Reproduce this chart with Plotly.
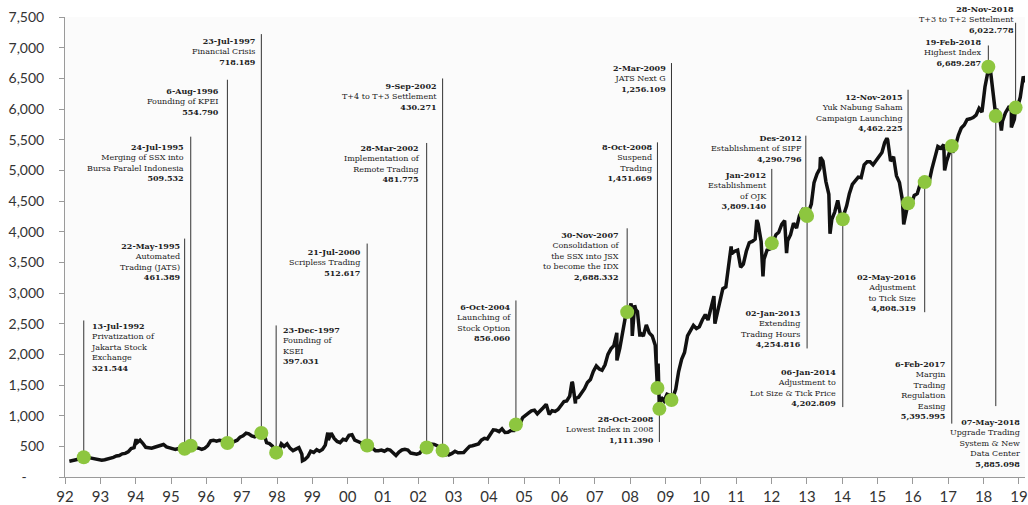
import pandas as pd
import plotly.graph_objects as go

# ---------------- data ----------------
# Monthly (mid-month) index levels, Jan-1992 .. Mar-2019
monthly_start = "1992-01-15"
monthly_values = [
    258, 270, 285, 292, 305, 315, 322, 312, 302, 295, 285, 275,          # 1992
    282, 292, 305, 320, 342, 350, 378, 385, 410, 465, 480, 560,          # 1993
    600, 550, 485, 478, 470, 485, 505, 520, 530, 490, 470, 462,          # 1994
    448, 462, 432, 420, 458, 485, 512, 478, 470, 452, 468, 510,          # 1995
    590, 600, 585, 598, 592, 590, 548, 558, 585, 600, 650, 672,          # 1996
    715, 705, 670, 655, 690, 718, 722, 560, 545, 505, 430, 405,          # 1997
    540, 500, 540, 470, 430, 455, 480, 370, 285, 330, 420, 400,          # 1998
    445, 420, 450, 520, 600, 715, 630, 580, 560, 615, 600, 680,          # 1999
    690, 600, 585, 560, 500, 520, 510, 475, 430, 430, 440, 420,          # 2000
    450, 440, 395, 350, 405, 440, 450, 440, 390, 380, 372, 388,          # 2001
    450, 460, 485, 535, 530, 510, 470, 450, 430, 362, 385, 420,          # 2002
    395, 400, 400, 450, 500, 510, 520, 540, 600, 630, 620, 690,          # 2003
    770, 765, 740, 785, 725, 730, 760, 760, 820, 860, 970, 1000,         # 2004
    1045, 1080, 1090, 1030, 1090, 1130, 1185, 1020, 1080, 1070, 1100, 1160,  # 2005
    1230, 1240, 1320, 1530, 1280, 1300, 1360, 1440, 1540, 1590, 1720, 1810,  # 2006
    1760, 1740, 1830, 2000, 2090, 2140, 2350, 2100, 2360, 2640, 2690, 2750,  # 2007
    2800, 2700, 2350, 2300, 2480, 2350, 2300, 2150, 1850, 1300, 1240, 1350,  # 2008
    1330, 1290, 1430, 1720, 1920, 2030, 2300, 2400, 2470, 2420, 2450, 2560,  # 2009
    2650, 2560, 2780, 2950, 2650, 2910, 3070, 3100, 3500, 3640, 3680, 3700,  # 2010
    3420, 3470, 3680, 3820, 3840, 3880, 4130, 3840, 3550, 3700, 3720, 3820,  # 2011
    3950, 3990, 4120, 4180, 3850, 3950, 4140, 4060, 4260, 4350, 4280, 4310,  # 2012
    4450, 4800, 4940, 5030, 5150, 4820, 4610, 4200, 4320, 4510, 4260, 4270,  # 2013
    4420, 4620, 4770, 4840, 4890, 4880, 5090, 5140, 5140, 5090, 5150, 5230,  # 2014
    5290, 5450, 5500, 5150, 5220, 4910, 4800, 4510, 4250, 4460, 4450, 4590,  # 2015
    4620, 4770, 4850, 4840, 4800, 5020, 5220, 5390, 5360, 5420, 5150, 5300,  # 2016
    5290, 5390, 5570, 5690, 5740, 5830, 5840, 5860, 5900, 6010, 5950, 6360,  # 2017
    6610, 6600, 6190, 6000, 5880, 5800, 5940, 6020, 5980, 5830, 6020, 6190,  # 2018
    6530, 6450, 6470,                                                    # 2019
]

# Intra-month highs / lows visible on the chart
extreme_dates = ["1994-01-05", "1997-07-08", "1998-09-21", "1999-06-10", "2002-10-15",
                 "2006-05-08", "2006-06-13", "2007-08-16", "2008-01-09", "2008-01-22",
                 "2008-02-27", "2008-04-10", "2010-05-25", "2010-11-09", "2011-08-01",
                 "2011-10-04", "2012-06-04", "2013-05-20", "2013-08-27", "2015-04-07",
                 "2015-09-28", "2016-11-24", "2018-07-04", "2018-10-15"]
extreme_values = [615, 740, 265, 725, 340,
                  1550, 1200, 1900, 2830, 2300,
                  2730, 2290, 2500, 3760, 4190,
                  3270, 3650, 5214, 3967, 5524,
                  4120, 5000, 5650, 5700]

# Milestones
event_dates = ["1992-07-13", "1995-05-22", "1995-07-24", "1996-08-06", "1997-07-23",
               "1997-12-23", "2000-07-21", "2002-03-28", "2002-09-09", "2004-10-06",
               "2007-11-30", "2008-10-08", "2008-10-28", "2009-03-02", "2012-01-03",
               "2012-12-20", "2013-01-02", "2014-01-06", "2015-11-12", "2016-05-02",
               "2017-02-06", "2018-02-19", "2018-05-07", "2018-11-28"]
event_values = [321.544, 461.389, 509.532, 554.790, 718.189,
                397.031, 512.617, 481.775, 430.271, 856.060,
                2688.332, 1451.669, 1111.390, 1256.109, 3809.140,
                4290.796, 4254.816, 4202.809, 4462.225, 4808.319,
                5395.995, 6689.287, 5885.098, 6022.778]
event_date_labels = ["13-Jul-1992", "22-May-1995", "24-Jul-1995", "6-Aug-1996", "23-Jul-1997",
                     "23-Dec-1997", "21-Jul-2000", "28-Mar-2002", "9-Sep-2002", "6-Oct-2004",
                     "30-Nov-2007", "8-Oct-2008", "28-Oct-2008", "2-Mar-2009", "Jan-2012",
                     "Des-2012", "02-Jan-2013", "06-Jan-2014", "12-Nov-2015", "02-May-2016",
                     "6-Feb-2017", "19-Feb-2018", "07-May-2018", "28-Nov-2018"]
event_descriptions = [
    "Privatization of<br>Jakarta Stock<br>Exchange",
    "Automated<br>Trading (JATS)",
    "Merging of SSX into<br>Bursa Paralel Indonesia",
    "Founding of KPEI",
    "Financial Crisis",
    "Founding of<br>KSEI",
    "Scripless Trading",
    "Implementation of<br>Remote Trading",
    "T+4 to T+3 Settlement",
    "Launching of<br>Stock Option",
    "Consolidation of<br>the SSX into JSX<br>to become the IDX",
    "Suspend<br>Trading",
    "Lowest Index in 2008",
    "JATS Next G",
    "Establishment<br>of OJK",
    "Establishment of SIPF",
    "Extending<br>Trading Hours",
    "Adjustment to<br>Lot Size &amp; Tick Price",
    "Yuk Nabung Saham<br>Campaign Launching",
    "Adjustment<br>to Tick Size",
    "Margin<br>Trading<br>Regulation<br>Easing",
    "Highest Index",
    "Upgrade Trading<br>System &amp; New<br>Data Center",
    "T+3 to T+2 Settelment",
]

y_tick_values = list(range(0, 7501, 500))
x_tick_years = list(range(1992, 2020))

# ---------------- layout specs for the callouts ----------------
# (leader-line end level, text anchor level, text yanchor, text xanchor, xshift px, yshift px)
callout_layout = [
    (2552, 2536, "top", "left", 7, 0),
    (3887, 3855, "top", "right", -5, 0),
    (5549, 5467, "top", "right", -7, 0),
    (6477, 6379, "top", "right", -8, 0),
    (7221, 7194, "top", "right", -5, 0),
    (2471, 2471, "top", "left", 7, 0),
    (3806, 3757, "top", "right", -6, 0),
    (5446, 5451, "top", "right", -7, 0),
    (6498, 6461, "top", "right", -6, 0),
    (2878, 2861, "top", "right", -5, 0),
    (4055, 4034, "top", "right", -7, 0),
    (5456, 5467, "top", "right", -5, 0),
    (570, 516, "bottom", "right", -5, 0),
    (6749, 6754, "top", "right", -5, 0),
    (5023, 5011, "top", "right", -5, 0),
    (5565, 5614, "top", "right", -4, 0),
    (2096, 2080, "bottom", "right", -6, 0),
    (1140, 1119, "bottom", "right", -7, 0),
    (6314, 6282, "top", "right", -5, 0),
    (2687, 2666, "bottom", "right", -8, 0),
    (870, 907, "bottom", "right", -7, 0),
    (7036, 7177, "top", "right", -6, 0),
    (1156, 972, "top", "right", 24, 0),
    (7406, 7500, "top", "right", -2, 13),
]

# ---------------- build series ----------------
m_dates = pd.date_range(monthly_start, periods=len(monthly_values), freq="MS") + pd.Timedelta(days=14)
series = pd.concat([
    pd.Series(monthly_values, index=m_dates),
    pd.Series(extreme_values, index=pd.to_datetime(extreme_dates)),
    pd.Series(event_values, index=pd.to_datetime(event_dates)),
]).sort_index()

fig = go.Figure()
fig.add_trace(go.Scatter(
    x=series.index, y=series.values, mode="lines",
    line=dict(color="#111111", width=3.5), hoverinfo="skip", showlegend=False))
fig.add_trace(go.Scatter(
    x=pd.to_datetime(event_dates), y=event_values, mode="markers",
    marker=dict(color="#8dc63f", size=14, line=dict(width=0)),
    hoverinfo="skip", showlegend=False))

text_font = dict(family="DejaVu Serif", size=8, color="#222222")
for d, v, lab, desc, spec in zip(event_dates, event_values, event_date_labels,
                                 event_descriptions, callout_layout):
    lead_end, text_y, yanc, xanc, xs, ys = spec
    fig.add_shape(type="line", x0=d, x1=d, y0=v, y1=lead_end, xref="x", yref="y",
                  line=dict(color="#333333", width=1), layer="below")
    txt = f"<b>{lab}</b><br>{desc}<br><b>{v:,.3f}</b>"
    fig.add_annotation(x=d, y=text_y, xref="x", yref="y", text=txt, showarrow=False,
                       xanchor=xanc, yanchor=yanc, xshift=xs, yshift=ys, align=xanc,
                       font=text_font, borderpad=0, borderwidth=0)

fig.update_layout(
    width=1028, height=505,
    margin=dict(l=65, r=0, t=17, b=27),
    paper_bgcolor="white", plot_bgcolor="#fbfbfb",
    showlegend=False,
    xaxis=dict(
        type="date", range=["1992-01-01", "2019-03-05"],
        tickvals=[f"{y}-01-01" for y in x_tick_years],
        ticktext=[f"{y % 100:02d}" for y in x_tick_years],
        showgrid=False, zeroline=False, showline=True, linecolor="#9a9a9a", linewidth=1,
        ticks="outside", ticklen=6, tickcolor="#9a9a9a", ticklabeloverflow="allow",
        tickfont=dict(family="Lato", size=15, color="#333333"),
    ),
    yaxis=dict(
        range=[0, 7500],
        tickvals=y_tick_values,
        ticktext=["-\u2003\u2002"] + [f"{v:,}" for v in y_tick_values[1:]],
        showgrid=False, zeroline=False, showline=True, linecolor="#9a9a9a", linewidth=1,
        ticks="outside", ticklen=5, tickcolor="#9a9a9a", ticklabelstandoff=12,
        tickfont=dict(family="Lato", size=14, color="#333333"),
    ),
)

fig.write_html("out.html", config={"displayModeBar": False},
               post_script="document.body.style.margin='0';document.body.style.overflow='hidden';")
